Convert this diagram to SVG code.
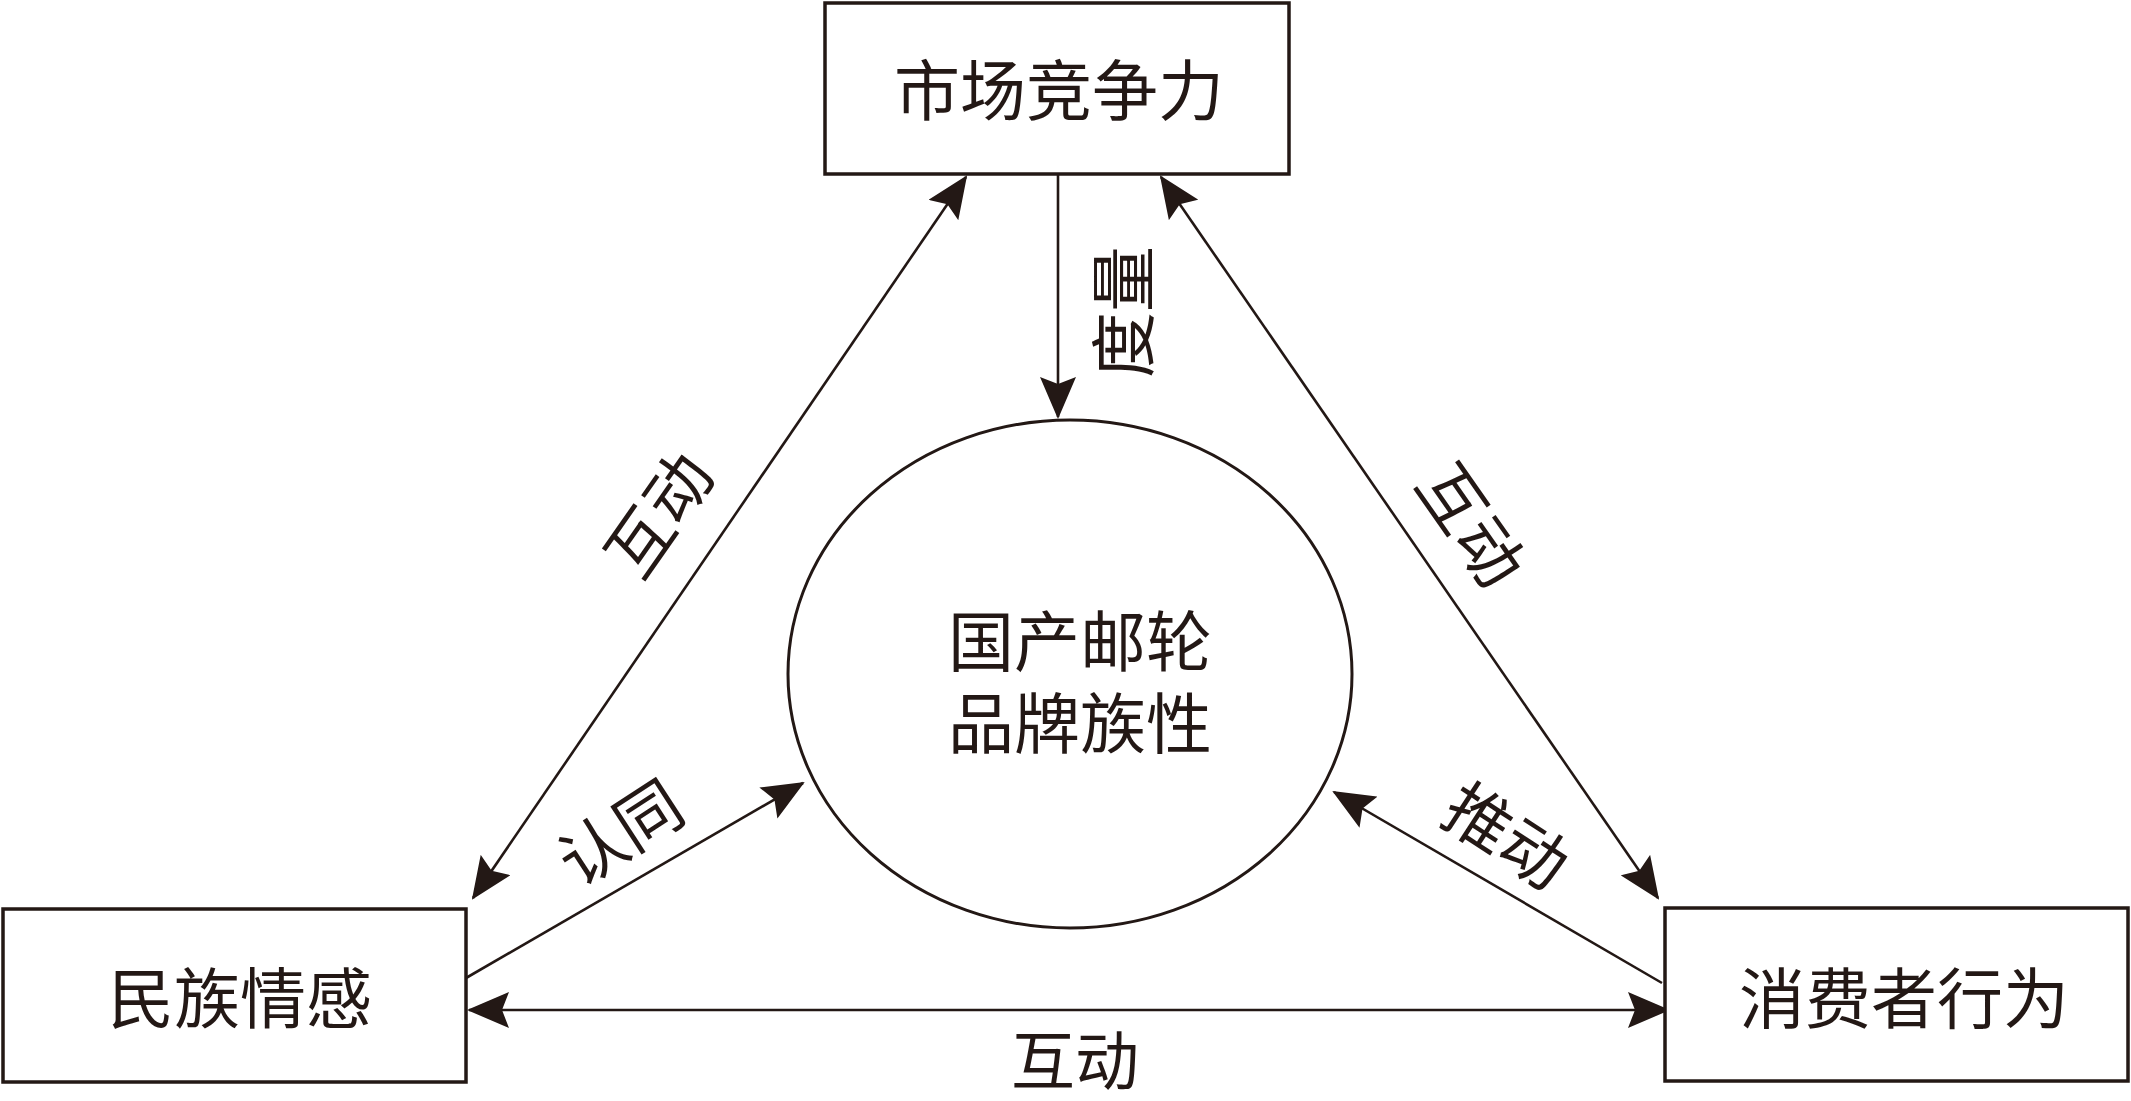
<svg xmlns="http://www.w3.org/2000/svg" width="2131" height="1101" viewBox="0 0 2131 1101">
<style>
.box{fill:#fff;stroke:#231815;stroke-width:3.5}
.ell{fill:none;stroke:#231815;stroke-width:3}
.ln{fill:none;stroke:#231815;stroke-width:2.6}
.t{font-family:"Noto Sans CJK SC","Noto Sans CJK TC",sans-serif;font-size:66px;fill:#231815;text-anchor:middle;dominant-baseline:central}
</style>
<defs>
<marker id="ah" viewBox="0 0 42 36" refX="40" refY="18" markerWidth="42" markerHeight="36" markerUnits="userSpaceOnUse" orient="auto-start-reverse">
<path d="M0,0 L42,18 L0,36 L7,18 Z" fill="#231815"/>
</marker>
</defs>
<rect width="2131" height="1101" fill="#fff"/>
<g id="connectors">
<line class="ln" x1="1058" y1="174" x2="1058" y2="417" marker-end="url(#ah)"/>
<line class="ln" x1="473" y1="898" x2="966" y2="177" marker-start="url(#ah)" marker-end="url(#ah)"/>
<line class="ln" x1="1161" y1="177" x2="1658" y2="898" marker-start="url(#ah)" marker-end="url(#ah)"/>
<line class="ln" x1="466" y1="978" x2="803" y2="783" marker-end="url(#ah)"/>
<line class="ln" x1="1662" y1="983" x2="1334" y2="792" marker-end="url(#ah)"/>
<line class="ln" x1="469" y1="1010" x2="1668" y2="1010" stroke-width="3.2" marker-start="url(#ah)" marker-end="url(#ah)"/>
<text class="t" transform="translate(1119,312) rotate(-90)">度量</text>
<text class="t" transform="translate(655,512) rotate(-55)">互动</text>
<text class="t" transform="translate(1475,522) rotate(55)">互动</text>
<text class="t" transform="translate(618,829) rotate(-33)">认同</text>
<text class="t" transform="translate(1509,832) rotate(33)">推动</text>
<text class="t" x="1075" y="1056" style="font-size:64px">互动</text>
</g>
<g id="node-market">
<rect class="box" x="825" y="3" width="464" height="171"/>
<text class="t" x="1059" y="86">市场竞争力</text>
</g>
<g id="node-emotion">
<rect class="box" x="3" y="909" width="463" height="173"/>
<text class="t" x="240" y="994">民族情感</text>
</g>
<g id="node-consumer">
<rect class="box" x="1665" y="908" width="463" height="173"/>
<text class="t" x="1904" y="994">消费者行为</text>
</g>
<g id="node-brand">
<ellipse class="ell" cx="1070" cy="674" rx="282" ry="254"/>
<text class="t"><tspan x="1080" y="637">国产邮轮</tspan><tspan x="1080" y="719">品牌族性</tspan></text>
</g>
</svg>
